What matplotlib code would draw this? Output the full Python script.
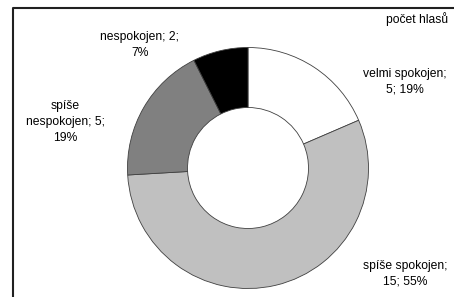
import matplotlib.pyplot as plt

# hodnoty z grafu
kategorie = ['velmi spokojen', 'spíše spokojen', 'spíše nespokojen', 'nespokojen']
hlasy = [5, 15, 5, 2]
procenta = ['19%', '55%', '19%', '7%']
barvy = ['#ffffff', '#c0c0c0', '#808080', '#000000']
popisky = ['velmi spokojen;\n5; 19%', 'spíše spokojen;\n15; 55%',
           'spíše\nnespokojen; 5;\n19%', 'nespokojen; 2;\n7%']
# pozice popisků (px, počítáno od levého horního rohu)
pozice = [(405, 82), (405, 274), (65, 122), (140, 45)]

plt.rcParams['font.family'] = ['Liberation Sans', 'DejaVu Sans']

W, H = 454, 297
fig = plt.figure(figsize=(W / 100, H / 100), dpi=100)
ax = fig.add_axes([0, 0, 1, 1])

ax.pie(hlasy, colors=barvy, startangle=90, counterclock=False,
       center=(248, H - 168), radius=120.5,
       wedgeprops=dict(width=60, edgecolor='#404040', linewidth=0.6))

for txt, (x, y) in zip(popisky, pozice):
    ax.text(x, H - y, txt, ha='center', va='center', fontsize=8.7,
            linespacing=1.4, color='black')

ax.text(448, H - 19, 'počet hlasů', ha='right', va='center', fontsize=8.7)

# rámeček
ax.plot([12.5, 12.5, W + 5], [-5, H - 7.5, H - 7.5], color='#202020', lw=1.5,
        solid_capstyle='butt')

ax.set_xlim(0, W)
ax.set_ylim(0, H)
ax.set_aspect('equal')
ax.axis('off')

fig.savefig('out.png', dpi=100)
